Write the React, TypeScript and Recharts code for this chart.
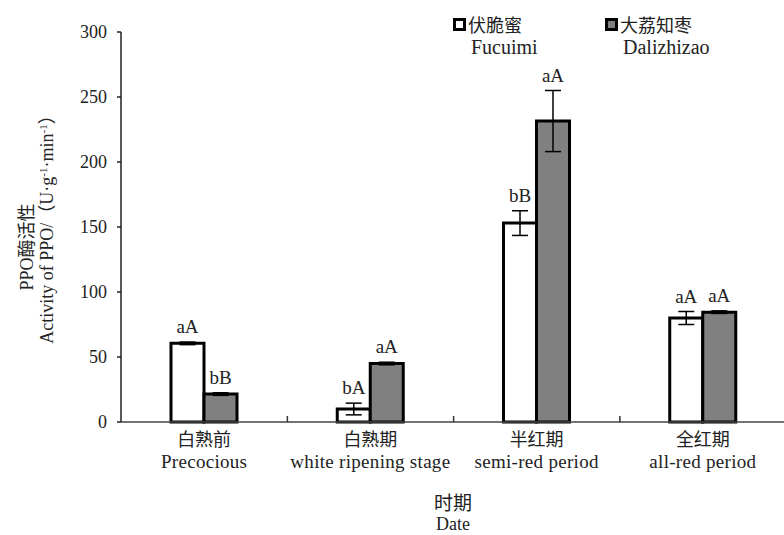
import React from "react";
import {
  Bar,
  BarChart,
  ErrorBar,
  LabelList,
  Legend,
  XAxis,
  YAxis,
} from "recharts";

const stagesZh = ["白熟前", "白熟期", "半红期", "全红期"];
const stagesEn = ["Precocious", "white ripening stage", "semi-red period", "all-red period"];
const fucuimi = [60.5, 10, 153, 80];
const fucuimiErr = [1, 4.5, 9.5, 5];
const fucuimiSig = ["aA", "bA", "bB", "aA"];
const dalizhizao = [21.5, 45, 231.5, 84.5];
const dalizhizaoErr = [1, 1, 23.5, 1];
const dalizhizaoSig = ["bB", "aA", "aA", "aA"];
const yTicks = [0, 50, 100, 150, 200, 250, 300];

const data = stagesZh.map((zh, i) => ({
  zh,
  en: stagesEn[i],
  f: fucuimi[i],
  fErr: fucuimiErr[i],
  d: dalizhizao[i],
  dErr: dalizhizaoErr[i],
}));

const SERIF = "'Liberation Serif', 'Times New Roman', 'Noto Sans CJK SC', serif";
const CJK = "'Noto Sans CJK SC', 'Liberation Serif', sans-serif";
const INK = "#222";

const TOP = 32;
const PLOT_H = 390;
const PX_PER_UNIT = PLOT_H / 300;
const HALF_BAND = 83;

function CatTick(props: any) {
  const { x, y, index } = props;
  return (
    <g>
      {index > 0 && (
        <line x1={x - HALF_BAND} x2={x - HALF_BAND} y1={y - 6} y2={y} stroke="#333" strokeWidth={1.5} />
      )}
      <text x={x} y={y + 24} textAnchor="middle" fontFamily={CJK} fontSize={18} fill={INK}>
        {stagesZh[index]}
      </text>
      <text x={x} y={y + 46} textAnchor="middle" fontFamily={SERIF} fontSize={19} letterSpacing={0.3} fill={INK}>
        {stagesEn[index]}
      </text>
    </g>
  );
}

function sigLabel(sig: string[], err: number[]) {
  return (props: any) => {
    const { x, y, width, index } = props;
    const top = y - err[index] * PX_PER_UNIT;
    return (
      <text x={x + width / 2} y={top - 9} textAnchor="middle" fontFamily={SERIF} fontSize={19} fill={INK}>
        {sig[index]}
      </text>
    );
  };
}

function YTitle() {
  return (
    <g fill={INK}>
      <text
        transform="translate(33, 247) rotate(-90)"
        textAnchor="middle"
        fontFamily={SERIF}
        fontSize={18}
      >
        PPO<tspan fontFamily={CJK}>酶活性</tspan>
      </text>
      <text
        transform="translate(53, 225) rotate(-90)"
        textAnchor="middle"
        fontFamily={SERIF}
        fontSize={18}
      >
        Activity of PPO/
        <tspan fontFamily={CJK}>（</tspan>U·g
        <tspan fontSize={11} dy={-6}>-1</tspan>
        <tspan dy={6}>·min</tspan>
        <tspan fontSize={11} dy={-6}>-1</tspan>
        <tspan dy={6} fontFamily={CJK}>）</tspan>
      </text>
    </g>
  );
}

function XTitle() {
  return (
    <g fill={INK}>
      <text x={453} y={510} textAnchor="middle" fontFamily={CJK} fontSize={19}>
        时期
      </text>
      <text x={453} y={530} textAnchor="middle" fontFamily={SERIF} fontSize={18}>
        Date
      </text>
    </g>
  );
}

const legendItems = [
  { zh: "伏脆蜜", en: "Fucuimi", fill: "#fff", left: 453 },
  { zh: "大荔知枣", en: "Dalizhizao", fill: "#808080", left: 605 },
];

function LegendBox() {
  return (
    <div style={{ position: "relative", width: 784, height: 60 }}>
      {legendItems.map((it) => (
        <div key={it.zh}>
          <div
            style={{
              position: "absolute",
              left: it.left,
              top: 18,
              width: 13,
              height: 13,
              boxSizing: "border-box",
              border: "3px solid #000",
              background: it.fill,
            }}
          />
          <div
            style={{
              position: "absolute",
              left: it.left + 15,
              top: 14,
              fontFamily: CJK,
              fontSize: 18,
              lineHeight: "21px",
              color: INK,
              whiteSpace: "nowrap",
            }}
          >
            {it.zh}
          </div>
          <div
            style={{
              position: "absolute",
              left: it.left + 18,
              top: 36,
              fontFamily: SERIF,
              fontSize: 20,
              lineHeight: "22px",
              color: INK,
              whiteSpace: "nowrap",
            }}
          >
            {it.en}
          </div>
        </div>
      ))}
    </div>
  );
}

export default function App() {
  return (
    <div
      style={{
        position: "absolute",
        left: 0,
        top: 0,
        width: 784,
        height: 535,
        overflow: "hidden",
        background: "#fff",
      }}
    >
      <BarChart
        width={786}
        height={535}
        data={data}
        margin={{ top: TOP, right: 0, bottom: 0, left: 61 }}
        barGap={0}
        barSize={33}
      >
        <XAxis
          dataKey="zh"
          height={113}
          tick={<CatTick />}
          tickLine={false}
          tickSize={0}
          tickMargin={0}
          interval={0}
          axisLine={{ stroke: "#444", strokeWidth: 1.5 }}
          label={{ content: () => <XTitle /> }}
        />
        <YAxis
          width={60}
          domain={[0, 300]}
          ticks={yTicks}
          interval={0}
          tickSize={4}
          tickMargin={10}
          tick={{ fontFamily: SERIF, fontSize: 18, fill: INK }}
          axisLine={{ stroke: "#222", strokeWidth: 1.5 }}
          tickLine={{ stroke: "#222", strokeWidth: 1.5 }}
          label={{ content: () => <YTitle /> }}
        />
        <Legend
          layout="horizontal"
          verticalAlign="middle"
          align="center"
          content={() => <LegendBox />}
          wrapperStyle={{ position: "absolute", left: 0, top: 0, width: 784, height: 60 }}
        />
        <Bar dataKey="f" fill="#fff" stroke="#000" strokeWidth={3} isAnimationActive={false}>
          <ErrorBar dataKey="fErr" width={8} stroke="#000" strokeWidth={1.5} />
          <LabelList dataKey="f" content={sigLabel(fucuimiSig, fucuimiErr)} />
        </Bar>
        <Bar dataKey="d" fill="#808080" stroke="#000" strokeWidth={3} isAnimationActive={false}>
          <ErrorBar dataKey="dErr" width={8} stroke="#000" strokeWidth={1.5} />
          <LabelList dataKey="d" content={sigLabel(dalizhizaoSig, dalizhizaoErr)} />
        </Bar>
      </BarChart>
    </div>
  );
}
